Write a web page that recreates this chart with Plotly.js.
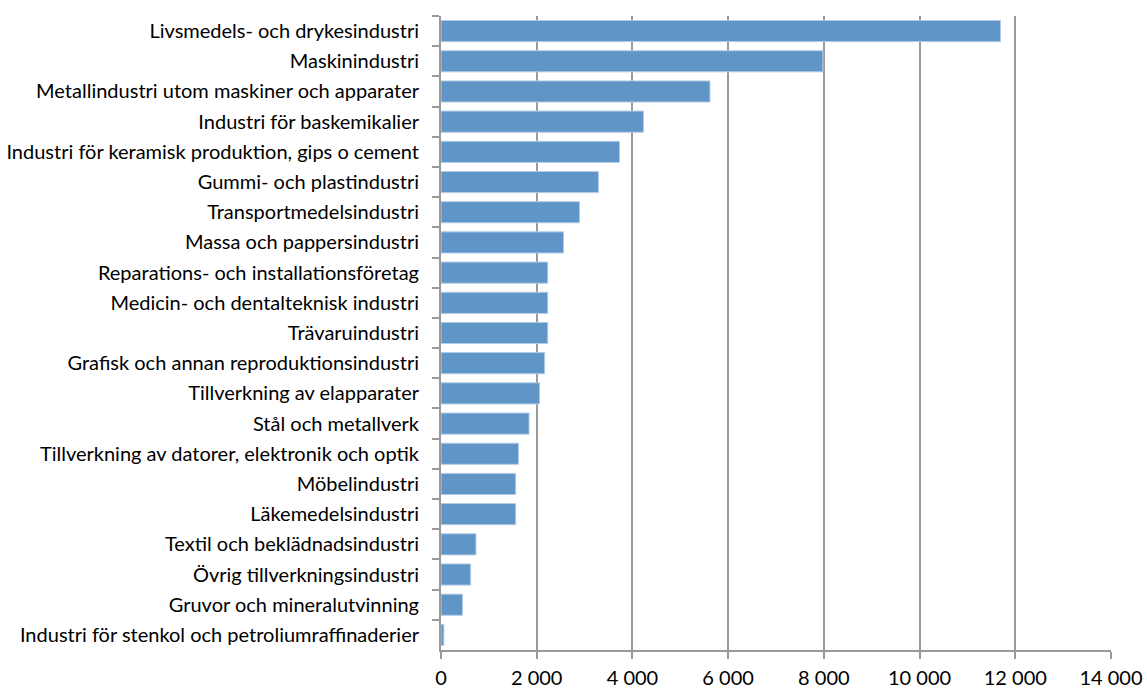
<!DOCTYPE html>
<html>
<head>
<meta charset="utf-8">
<script src="https://cdn.plot.ly/plotly-3.0.1.min.js"></script>
<style>html,body{margin:0;padding:0;background:#fff;}#chart{width:1147px;height:691px;}</style>
</head>
<body>
<div id="chart"></div>
<script>
const categories = [
  "Livsmedels- och drykesindustri",
  "Maskinindustri",
  "Metallindustri utom maskiner och apparater",
  "Industri för baskemikalier",
  "Industri för keramisk produktion, gips o cement",
  "Gummi- och plastindustri",
  "Transportmedelsindustri",
  "Massa och pappersindustri",
  "Reparations- och installationsföretag",
  "Medicin- och dentalteknisk industri",
  "Trävaruindustri",
  "Grafisk och annan reproduktionsindustri",
  "Tillverkning av elapparater",
  "Stål och metallverk",
  "Tillverkning av datorer, elektronik och optik",
  "Möbelindustri",
  "Läkemedelsindustri",
  "Textil och beklädnadsindustri",
  "Övrig tillverkningsindustri",
  "Gruvor och mineralutvinning",
  "Industri för stenkol och petroliumraffinaderier"
];
const values = [11690, 7980, 5620, 4230, 3730, 3290, 2895, 2560, 2230, 2230, 2230, 2165, 2060, 1840, 1620, 1560, 1560, 730, 620, 450, 60];
const xTicks = [0, 2000, 4000, 6000, 8000, 10000, 12000, 14000];

const trace = {
  type: 'bar',
  orientation: 'h',
  x: values,
  y: categories,
  width: 0.7,
  marker: {color: '#5F95C7', line: {color: '#B3CCE6', width: 1}},
  hoverinfo: 'x+y'
};

const layout = {
  width: 1147, height: 691,
  margin: {l: 441, r: 36, t: 16, b: 41},
  paper_bgcolor: '#ffffff', plot_bgcolor: '#ffffff',
  separators: ', ',
  showlegend: false,
  font: {family: 'Lato, "Open Sans", sans-serif', size: 20, color: '#000'},
  xaxis: {
    range: [0, 14000],
    tickvals: xTicks,
    tickformat: ',d',
    showgrid: true, gridcolor: '#9a9a9a', gridwidth: 2,
    zeroline: false,
    showline: true, linecolor: '#9a9a9a', linewidth: 2,
    ticks: 'outside', ticklen: 7, tickcolor: '#9a9a9a', tickwidth: 2,
    ticklabelstandoff: 2,
    tickfont: {size: 20, family: 'Lato, "Open Sans", sans-serif'},
    fixedrange: true
  },
  yaxis: {
    type: 'category',
    autorange: 'reversed',
    tickson: 'boundaries',
    showgrid: false, zeroline: false,
    showline: true, linecolor: '#9a9a9a', linewidth: 2,
    ticks: 'outside', ticklen: 7, tickcolor: '#9a9a9a', tickwidth: 2,
    ticklabelstandoff: 16,
    tickfont: {size: 20, family: 'Lato, "Open Sans", sans-serif'},
    fixedrange: true
  }
};

Plotly.newPlot('chart', [trace], layout, {displayModeBar: false, staticPlot: true});
</script>
</body>
</html>
